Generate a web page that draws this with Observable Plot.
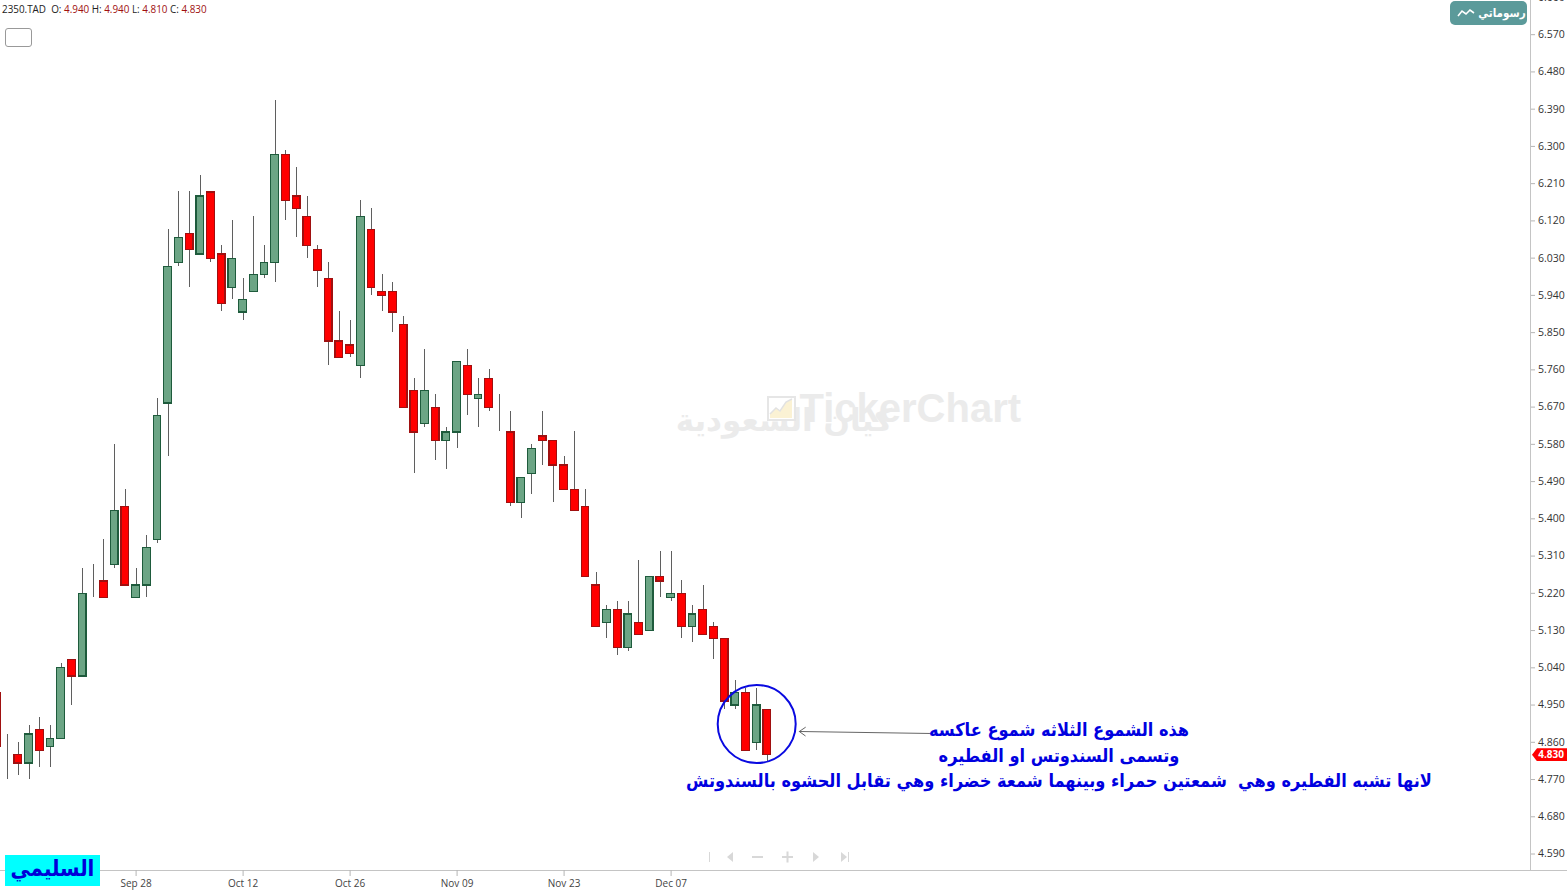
<!DOCTYPE html>
<html lang="ar">
<head>
<meta charset="utf-8">
<script src="https://cdn.jsdelivr.net/npm/d3@7"></script>
<script src="https://cdn.jsdelivr.net/npm/@observablehq/plot@0.6"></script>
<style>
html,body{margin:0;padding:0;background:#fff;overflow:hidden;}
#wrap{position:relative;width:1567px;height:891px;}
#wrap svg{display:block;}
.ov{position:absolute;box-sizing:border-box;}
#ohlc{left:2px;top:2px;font:9.9px/14px "Open Sans",sans-serif;color:#222;white-space:pre;}
#ohlc b{font-weight:400;color:#a01010;}
#cb{left:5px;top:28px;width:27px;height:19px;border:1px solid #999;border-radius:3px;background:#fff;}
#mine{left:1450px;top:1px;width:77px;height:24px;background:#5b9a9a;border-radius:5px;color:#fff;font:bold 11.5px/24px "DejaVu Sans Condensed","DejaVu Sans",sans-serif;display:flex;align-items:center;justify-content:center;gap:3px;padding-left:6px;}
#brand{left:5px;top:855px;width:95px;height:31px;background:#00ffff;color:#0000d8;font:bold 22px/28px "DejaVu Sans Condensed","DejaVu Sans",sans-serif;text-align:center;}
#tag{left:1532px;width:35px;height:13px;background:#ff0000;color:#fff;font:bold 10px/13px "Open Sans",sans-serif;text-align:right;padding-right:3px;clip-path:polygon(0 50%,5px 0,100% 0,100% 100%,5px 100%);}
</style>
</head>
<body>
<div id="wrap"></div>
<script>
const firstIndex = -1;
const opens  = [4.98,4.85,4.83,4.81,4.89,4.85,4.87,5.06,5.02,5.25,5.25,5.29,5.43,5.21,5.24,5.35,5.68,6.02,6.09,6.04,6.19,6.04,5.96,5.90,5.95,5.99,6.02,6.28,6.18,6.13,6.05,5.98,5.83,5.82,5.77,6.10,5.95,5.95,5.87,5.71,5.63,5.67,5.59,5.61,5.77,5.69,5.74,5.67,5.61,5.44,5.51,5.60,5.59,5.53,5.47,5.43,5.24,5.15,5.18,5.09,5.15,5.13,5.26,5.21,5.22,5.14,5.18,5.14,5.11,4.95,4.98,4.86,4.94];
const highs  = [4.98,4.88,4.86,4.90,4.92,4.90,5.05,5.06,5.28,5.29,5.35,5.58,5.47,5.28,5.36,5.69,6.10,6.19,6.19,6.23,6.19,6.06,6.12,5.98,6.13,6.06,6.41,6.29,6.25,6.18,6.06,6.02,5.90,5.88,6.17,6.15,5.99,5.97,5.89,5.74,5.81,5.70,5.62,5.78,5.81,5.74,5.76,5.70,5.66,5.50,5.58,5.66,5.59,5.55,5.61,5.47,5.27,5.19,5.20,5.20,5.30,5.26,5.32,5.32,5.25,5.19,5.24,5.15,5.11,5.01,4.99,4.99,4.94];
const lows   = [4.85,4.77,4.78,4.77,4.80,4.80,4.87,4.95,5.02,5.21,5.21,5.28,5.24,5.21,5.21,5.34,5.55,6.01,5.96,6.04,6.02,5.90,5.93,5.88,5.95,5.98,5.97,6.12,6.08,6.03,5.96,5.77,5.79,5.79,5.74,5.94,5.90,5.85,5.67,5.51,5.62,5.54,5.52,5.57,5.65,5.62,5.66,5.61,5.43,5.40,5.46,5.53,5.44,5.47,5.42,5.26,5.14,5.11,5.07,5.08,5.12,5.13,5.21,5.20,5.11,5.10,5.12,5.06,4.94,4.94,4.84,4.84,4.81];
const closes = [4.85,4.85,4.81,4.88,4.84,4.87,5.04,5.02,5.22,5.25,5.21,5.42,5.24,5.24,5.33,5.65,6.01,6.08,6.05,6.18,6.03,5.92,6.03,5.93,5.99,6.02,6.28,6.17,6.15,6.06,6.00,5.83,5.79,5.80,6.13,5.96,5.94,5.90,5.67,5.61,5.71,5.59,5.61,5.78,5.70,5.70,5.67,5.67,5.44,5.50,5.57,5.59,5.53,5.47,5.42,5.26,5.14,5.18,5.09,5.17,5.12,5.26,5.25,5.22,5.14,5.17,5.12,5.11,4.96,4.98,4.84,4.95,4.83];
const yTicks = [6.66,6.57,6.48,6.39,6.30,6.21,6.12,6.03,5.94,5.85,5.76,5.67,5.58,5.49,5.40,5.31,5.22,5.13,5.04,4.95,4.86,4.77,4.68,4.59];
const xTickIndex = [12,22,32,42,52,62];
const xTickLabels = ["Sep 28","Oct 12","Oct 26","Nov 09","Nov 23","Dec 07"];
const noteLines = ["هذه الشموع الثلاثه شموع عاكسه","وتسمى السندوتس او الفطيره","لانها تشبه الفطيره وهي  شمعتين حمراء وبينهما شمعة خضراء وهي تقابل الحشوه بالسندوتش"];
const noteY = [4.8885,4.8256,4.7652];
const lastClose = 4.83;

const rows = opens.map((o,k)=>({i:firstIndex+k,o,h:highs[k],l:lows[k],c:closes[k]}));
const up = rows.filter(d=>d.c>=d.o);
const down = rows.filter(d=>d.c<d.o);
const bodyHalf = 0.36;

const body = (data,fill,stroke)=>Plot.rect(data,{
  x1:d=>d.i-bodyHalf,x2:d=>d.i+bodyHalf,y1:"o",y2:"c",dy:0.5,
  fill,stroke,strokeWidth:1.2,shapeRendering:"crispEdges"});

const chart = Plot.plot({
  width:1567,height:891,
  marginLeft:0,marginRight:37,marginTop:0,marginBottom:21,
  style:{background:"#fff",fontFamily:'"Open Sans",sans-serif'},
  x:{type:"linear",domain:[-0.6729,142.318],range:[0,1530],axis:null},
  y:{type:"linear",domain:[4.5502,6.6526],range:[870,0],axis:null},
  marks:[
    Plot.text(["TickerChart"],{x:[84.35],y:[5.664],text:d=>d,fontSize:40,fontWeight:"bold",fontFamily:'"Liberation Sans",sans-serif',fill:"#ebebeb"}),
    Plot.text(["كيان السعودية"],{x:[72.55],y:[5.637],text:d=>d,fontSize:31,fontWeight:"bold",fontFamily:'"DejaVu Sans",sans-serif',fill:"#ebebeb"}),
    Plot.frame({anchor:"right",stroke:"#c4c4c4"}),
    Plot.ruleY([4.5502],{x1:-0.6729,x2:146,stroke:"#c4c4c4",clip:false}),
    Plot.axisY(yTicks,{anchor:"right",tickSize:4,tickPadding:3.5,tickFormat:d=>d.toFixed(3),fontSize:10.5,stroke:"#b5b5b5",fill:"#333",label:null}),
    Plot.axisX(xTickIndex,{anchor:"bottom",tickSize:6,tickPadding:3,tickFormat:d=>xTickLabels[xTickIndex.indexOf(d)],fontSize:10,stroke:"#b5b5b5",fill:"#444",label:null}),
    Plot.ruleX(rows,{x:"i",y1:"l",y2:"h",stroke:"#5f5f5f",strokeWidth:1,shapeRendering:"crispEdges"}),
    body(up,"#6ca585","#1e5b3c"),
    body(down,"#ff0000","#a01010"),
    Plot.dot([[70,4.9042]],{x:d=>d[0],y:d=>d[1],r:39,fill:"none",stroke:"#0a0ae0",strokeWidth:2}),
    Plot.arrow([[86.24,4.8813,73.98,4.8861]],{x1:d=>d[0],y1:d=>d[1],x2:d=>d[2],y2:d=>d[3],stroke:"#666",strokeWidth:1,headLength:11,headAngle:70,bend:0}),
    Plot.text(noteLines,{x:()=>98.25,y:(d,k)=>noteY[k],text:d=>d,fontSize:18,fontWeight:"bold",fontFamily:'"DejaVu Sans Condensed","DejaVu Sans",sans-serif',fill:"#0000e0",textAnchor:"middle"})
  ]
});

const wrap = document.getElementById("wrap");
wrap.appendChild(chart);

function add(id,html){const e=document.createElement("div");e.id=id;e.className="ov";e.innerHTML=html;wrap.appendChild(e);return e;}
add("ohlc",'2350.TAD  O: <b>4.940</b> H: <b>4.940</b> L: <b>4.810</b> C: <b>4.830</b>');
add("cb","");
add("mine",'<svg width="18" height="10" viewBox="0 0 18 10"><polyline points="1,8 5,3 9,6 13,2 17,5" fill="none" stroke="#fff" stroke-width="1.6"/></svg><span>رسوماتي</span>');
add("brand","السليمي");
add("tag",lastClose.toFixed(3)).style.top=(chart.scale("y").apply(lastClose)+0.5-6.5)+"px";
add("nav",'<svg width="150" height="14" viewBox="0 0 150 14"><g fill="#d8d8d8" stroke="none"><rect x="2" y="2" width="1" height="10"/><polygon points="20,7 26,2 26,12"/><rect x="45" y="6" width="11" height="2"/><rect x="75" y="6" width="11" height="2"/><rect x="79.5" y="1.5" width="2" height="11"/><polygon points="106,2 112,7 106,12"/><polygon points="134,2 140,7 134,12"/><rect x="141" y="2" width="1" height="10"/></g></svg>');
const nav=document.getElementById("nav");nav.style.left="707px";nav.style.top="850px";
add("logo",'<svg width="29" height="25" viewBox="0 0 29 25"><rect x="1" y="1" width="27" height="23" fill="none" stroke="#e6e6e6" stroke-width="2"/><polygon points="3,22 3,18 9,12 13,15 19,6 25,3 25,22" fill="#fbf2d4"/><polyline points="3,18 9,12 13,15 19,6 25,3" fill="none" stroke="#e2e2e2" stroke-width="1.5"/></svg>');
const logo=document.getElementById("logo");logo.style.left="767px";logo.style.top="396px";
</script>
</body>
</html>
